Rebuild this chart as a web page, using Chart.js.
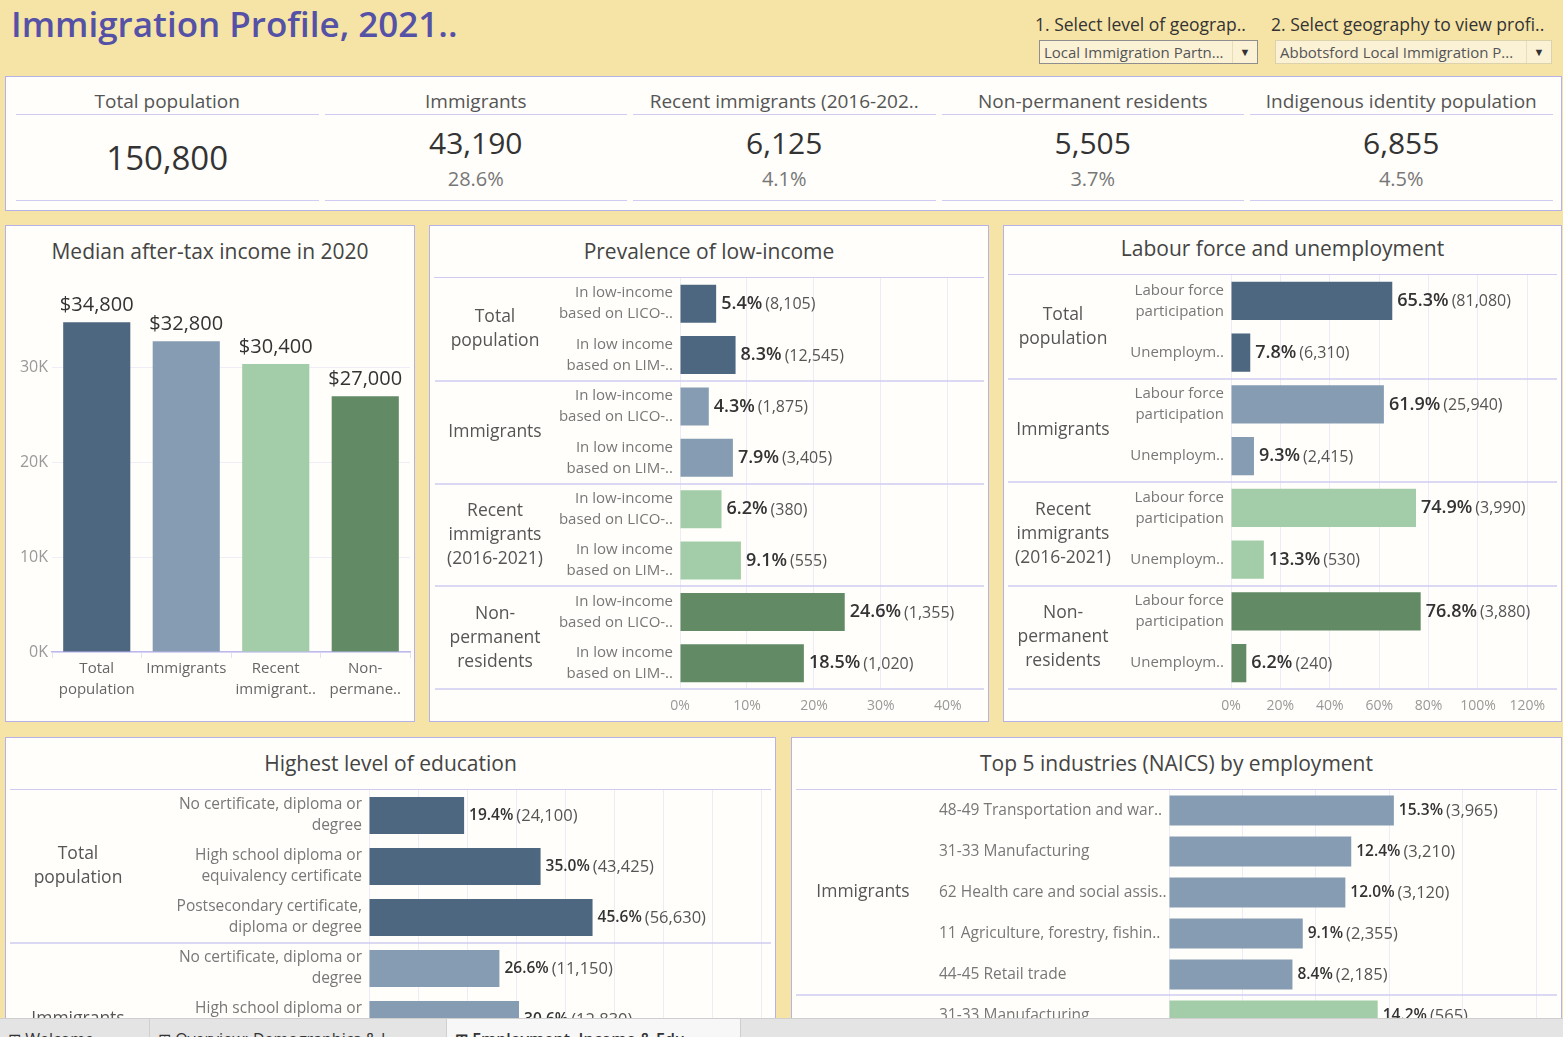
<!DOCTYPE html>
<html>
<head>
<meta charset="utf-8">
<title>Immigration Profile, 2021</title>
<script src="https://cdn.jsdelivr.net/npm/chart.js@4.4.0/dist/chart.umd.min.js"></script>
<style>
  body { margin: 0; width: 1563px; height: 1037px; overflow: hidden; position: relative;
         background: #F6E4A6; font-family: 'Open Sans', sans-serif; color: #333; }
  .abs { position: absolute; white-space: nowrap; }
  .panel { position: absolute; background: #FFFEFA; border: 1px solid #B6B2E8; box-sizing: border-box; }
  .ptitle { position: absolute; left: 0; right: 0; text-align: center; font-size: 21px; color: #444; line-height: 28px; }
  .hline { position: absolute; left: 4px; right: 4px; height: 0; border-top: 1.5px solid #CFCBF2; }
  .drop { position: absolute; height: 24px; box-sizing: border-box; background: #FBF2D6; font-size: 15px;
          color: #555; line-height: 22px; padding-left: 4px; }
  .drop .arr { position: absolute; right: 0; top: 0; width: 24px; height: 22px; text-align: center;
               font-size: 11px; color: #333; border-left: 1px solid #E8DDB8; }
  canvas { position: absolute; }
  .tabs { position: absolute; left: 0; top: 1018px; width: 1563px; height: 19px; background: #E4E4E4;
          border-top: 1px solid #CFCFCF; overflow: hidden; z-index: 5; }
  .tab { position: absolute; top: 0; height: 19px; border-right: 1px solid #CFCFCF; font-size: 16px;
         line-height: 22px; padding-top: 9px; padding-left: 8px; box-sizing: border-box; color: #333; }
</style>
</head>
<body>

<div class="abs" style="left:11px; top:0px; font-size:35px; font-weight:600; color:#5451A6; line-height:48px;">Immigration Profile, 2021..</div>

<div class="abs" style="left:1035px; top:11px; font-size:17.5px; line-height:26px;">1. Select level of geograp..</div>
<div class="abs" style="left:1271px; top:11px; font-size:17.5px; line-height:26px;">2. Select geography to view profi..</div>
<div class="drop" style="left:1039px; top:40px; width:219px; border:1px solid #8E8E8E;">Local Immigration Partn...<span class="arr">&#9660;</span></div>
<div class="drop" style="left:1275px; top:40px; width:277px; border:1px solid #DCD2AC;">Abbotsford Local Immigration P...<span class="arr">&#9660;</span></div>

<div class="panel" id="kpi" style="left:5px; top:76px; width:1557px; height:135px;"></div>

<div class="panel" style="left:5px; top:225px; width:410px; height:497px;">
  <div class="ptitle" style="top:11px;">Median after-tax income in 2020</div>
</div>
<div class="panel" style="left:429px; top:225px; width:560px; height:497px;">
  <div class="ptitle" style="top:11px;">Prevalence of low-income</div>
  <div class="hline" style="top:51px;"></div>
</div>
<div class="panel" style="left:1003px; top:225px; width:559px; height:497px;">
  <div class="ptitle" style="top:8px;">Labour force and unemployment</div>
  <div class="hline" style="top:48px;"></div>
</div>
<div class="panel" style="left:5px; top:737px; width:771px; height:330px;">
  <div class="ptitle" style="top:11px;">Highest level of education</div>
  <div class="hline" style="top:51px;"></div>
</div>
<div class="panel" style="left:791px; top:737px; width:771px; height:330px;">
  <div class="ptitle" style="top:11px;">Top 5 industries (NAICS) by employment</div>
  <div class="hline" style="top:51px;"></div>
</div>

<canvas id="incomeChart" width="407" height="444" style="left:6px; top:276px;"></canvas>
<canvas id="lowIncomeChart" width="556" height="442" style="left:431px; top:278px;"></canvas>
<canvas id="labourChart" width="556" height="445" style="left:1004px; top:275px;"></canvas>
<canvas id="eduChart" width="768" height="340" style="left:6px; top:790px;"></canvas>
<canvas id="industryChart" width="768" height="290" style="left:792px; top:790px;"></canvas>

<div class="tabs">
  <div class="tab" style="left:0; width:150px;">&#8862; Welcome</div>
  <div class="tab" style="left:150px; width:297px;">&#8862; Overview: Demographics &amp; I..</div>
  <div class="tab" style="left:447px; width:294px; background:#F7F7F7; font-weight:600;">&#8862; Employment, Income &amp; Edu..</div>
</div>

<script>
const BLUE_DARK = '#4E6781';
const BLUE_LIGHT = '#869CB2';
const GREEN_LIGHT = '#A2CDA8';
const GREEN_DARK = '#628A64';

// headline numbers
const kpiLabels = ['Total population', 'Immigrants', 'Recent immigrants (2016-202..', 'Non-permanent residents', 'Indigenous identity population'];
const kpiValues = [150800, 43190, 6125, 5505, 6855];
const kpiShares = [null, 28.6, 4.1, 3.7, 4.5];

// median after-tax income in 2020
const incomeLabels = [['Total', 'population'], ['Immigrants'], ['Recent', 'immigrant..'], ['Non-', 'permane..']];
const incomeValues = [34800, 32800, 30400, 27000];
const incomeTicks = [0, 10000, 20000, 30000];

// population groups used by the low-income and labour charts
const popGroups = [['Total', 'population'], ['Immigrants'], ['Recent', 'immigrants', '(2016-2021)'], ['Non-', 'permanent', 'residents']];
const popGroupSizes = [2, 2, 2, 2];

const lowIncomeLabels = [
  ['In low-income', 'based on LICO-..'], ['In low income', 'based on LIM-..'],
  ['In low-income', 'based on LICO-..'], ['In low income', 'based on LIM-..'],
  ['In low-income', 'based on LICO-..'], ['In low income', 'based on LIM-..'],
  ['In low-income', 'based on LICO-..'], ['In low income', 'based on LIM-..']
];
const lowIncomePct = [5.4, 8.3, 4.3, 7.9, 6.2, 9.1, 24.6, 18.5];
const lowIncomeCount = [8105, 12545, 1875, 3405, 380, 555, 1355, 1020];

const labourLabels = [
  ['Labour force', 'participation'], 'Unemploym..',
  ['Labour force', 'participation'], 'Unemploym..',
  ['Labour force', 'participation'], 'Unemploym..',
  ['Labour force', 'participation'], 'Unemploym..'
];
const labourPct = [65.3, 7.8, 61.9, 9.3, 74.9, 13.3, 76.8, 6.2];
const labourCount = [81080, 6310, 25940, 2415, 3990, 530, 3880, 240];

// highest level of education
const eduGroups = [['Total', 'population'], ['Immigrants']];
const eduGroupSizes = [3, 3];
const eduLabels = [
  ['No certificate, diploma or', 'degree'], ['High school diploma or', 'equivalency certificate'], ['Postsecondary certificate,', 'diploma or degree'],
  ['No certificate, diploma or', 'degree'], ['High school diploma or', 'equivalency certificate'], ['Postsecondary certificate,', 'diploma or degree']
];
const eduPct = [19.4, 35.0, 45.6, 26.6, 30.6, 42.8];
const eduCount = [24100, 43425, 56630, 11150, 12830, 17935];

// top industries
const industryGroups = [['Immigrants'], []];
const industryGroupSizes = [5, 1];
const industryLabels = ['48-49 Transportation and war..', '31-33 Manufacturing', '62 Health care and social assis..',
  '11 Agriculture, forestry, fishin..', '44-45 Retail trade', '31-33 Manufacturing'];
const industryPct = [15.3, 12.4, 12.0, 9.1, 8.4, 14.2];
const industryCount = [3965, 3210, 3120, 2355, 2185, 565];

Chart.defaults.font.family = "'Open Sans', sans-serif";
Chart.defaults.color = '#777';

// KPI strip
const kpi = document.getElementById('kpi');
const colW = 308.5;
kpiLabels.forEach((label, i) => {
  const left = 7 + i * colW;
  const col = document.createElement('div');
  col.style.cssText = `position:absolute; left:${left}px; top:0; width:${colW}px; height:133px; text-align:center;`;
  let html = `<div class="abs" style="left:0; right:0; top:11px; font-size:19px; color:#555; line-height:26px;">${label}</div>`;
  html += `<div class="abs" style="left:3px; right:3px; top:37px; border-top:1.5px solid #CFCBF2;"></div>`;
  html += `<div class="abs" style="left:3px; right:3px; top:123px; border-top:1.5px solid #CFCBF2;"></div>`;
  const v = kpiValues[i].toLocaleString('en-US');
  if (kpiShares[i] === null) {
    html += `<div class="abs" style="left:0; right:0; top:59px; font-size:33px; color:#333; line-height:44px;">${v}</div>`;
  } else {
    html += `<div class="abs" style="left:0; right:0; top:45px; font-size:30px; color:#333; line-height:42px;">${v}</div>`;
    html += `<div class="abs" style="left:0; right:0; top:88px; font-size:20px; color:#777; line-height:28px;">${kpiShares[i].toFixed(1)}%</div>`;
  }
  col.innerHTML = html;
  kpi.appendChild(col);
});

// value labels to the right of horizontal bars: "5.4% (8,105)"
function valuePlugin(counts, pctFont, countFont) {
  return {
    id: 'values',
    afterDatasetsDraw(chart) {
      const ctx = chart.ctx;
      const ds = chart.data.datasets[0];
      ctx.save();
      ctx.textBaseline = 'middle';
      ctx.textAlign = 'left';
      chart.getDatasetMeta(0).data.forEach((bar, i) => {
        let x = bar.x + 5;
        const p = ds.data[i].toFixed(1) + '%';
        ctx.font = pctFont;
        ctx.fillStyle = '#333';
        ctx.fillText(p, x, bar.y);
        x += ctx.measureText(p).width + 3;
        ctx.font = countFont;
        ctx.fillStyle = '#555';
        ctx.fillText('(' + counts[i].toLocaleString('en-US') + ')', x, bar.y + 1);
      });
      ctx.restore();
    }
  };
}

// outer group labels and the lines between groups
function groupPlugin(names, sizes, x, font, lineH) {
  return {
    id: 'groups',
    afterDraw(chart) {
      const { ctx, chartArea, scales } = chart;
      const band = (chartArea.bottom - chartArea.top) / chart.data.labels.length;
      ctx.save();
      let start = 0;
      sizes.forEach((size, g) => {
        const top = scales.y.getPixelForValue(start) - band / 2;
        const bottom = scales.y.getPixelForValue(start + size - 1) + band / 2;
        ctx.strokeStyle = '#CFCBF2';
        ctx.lineWidth = 1.5;
        ctx.beginPath();
        ctx.moveTo(4, Math.round(bottom));
        ctx.lineTo(chart.width - 3, Math.round(bottom));
        ctx.stroke();
        const lines = names[g];
        ctx.font = font;
        ctx.fillStyle = '#555';
        ctx.textAlign = 'center';
        ctx.textBaseline = 'middle';
        const mid = (top + bottom) / 2;
        lines.forEach((t, k) => ctx.fillText(t, x, mid + (k - (lines.length - 1) / 2) * lineH));
        start += size;
      });
      ctx.restore();
    }
  };
}

function hbar(id, labels, pcts, counts, names, sizes, colors, s) {
  const barColors = [];
  sizes.forEach((n, g) => { for (let i = 0; i < n; i++) barColors.push(colors[g]); });
  return new Chart(document.getElementById(id), {
    type: 'bar',
    data: {
      labels: labels,
      datasets: [{ data: pcts, backgroundColor: barColors, barPercentage: s.barPct, categoryPercentage: 1 }]
    },
    options: {
      indexAxis: 'y',
      responsive: false,
      animation: false,
      layout: { padding: { left: s.padLeft || 0, right: s.padRight, top: 0, bottom: 0 } },
      plugins: { legend: { display: false }, tooltip: { enabled: false } },
      scales: {
        x: {
          min: 0, max: s.max,
          ticks: { callback: v => v + '%', color: '#999', font: { size: 14 }, padding: 9, maxRotation: 0, autoSkip: false },
          grid: { color: '#ECEBF7', drawTicks: false },
          border: { display: false },
          afterBuildTicks: sc => {
            const t = [];
            for (let v = 0; v <= s.max; v += s.step) t.push({ value: v });
            sc.ticks = t;
          },
          afterFit: sc => { sc.height = s.xHeight; sc.paddingLeft = 0; sc.paddingRight = 0; }
        },
        y: {
          ticks: { color: '#777', font: { size: s.labelSize, lineHeight: s.labelLH }, padding: 7, crossAlign: s.align, autoSkip: false },
          grid: { display: false, drawTicks: false },
          border: { display: false },
          afterFit: sc => { sc.width = s.yWidth; sc.paddingTop = 0; sc.paddingBottom = 0; }
        }
      }
    },
    plugins: [
      groupPlugin(names, sizes, s.groupX, "17.5px 'Open Sans'", 24),
      valuePlugin(counts, s.pctFont, s.countFont)
    ]
  });
}

// median income column chart
new Chart(document.getElementById('incomeChart'), {
  type: 'bar',
  data: {
    labels: incomeLabels,
    datasets: [{
      data: incomeValues,
      backgroundColor: [BLUE_DARK, BLUE_LIGHT, GREEN_LIGHT, GREEN_DARK],
      barPercentage: 0.75,
      categoryPercentage: 1
    }]
  },
  options: {
    responsive: false,
    animation: false,
    layout: { padding: { top: 16, right: 3 } },
    plugins: { legend: { display: false }, tooltip: { enabled: false } },
    scales: {
      x: {
        ticks: { color: '#666', font: { size: 15, lineHeight: 1.4 }, padding: 0, maxRotation: 0, autoSkip: false },
        grid: { drawOnChartArea: false, drawTicks: true, tickLength: 6, color: '#E2E0F2', offset: true },
        border: { display: true, color: '#BDB9EC', width: 1.5 },
        afterFit: sc => { sc.height = 68; }
      },
      y: {
        min: 0, max: 38000,
        afterBuildTicks: sc => { sc.ticks = incomeTicks.map(v => ({ value: v })); },
        ticks: { callback: v => (v / 1000) + 'K', color: '#999', font: { size: 16 }, padding: 4 },
        grid: { color: '#EFEEF8', drawTicks: false },
        border: { display: false },
        afterFit: sc => { sc.width = 46; }
      }
    }
  },
  plugins: [{
    id: 'incomeValues',
    afterDatasetsDraw(chart) {
      const ctx = chart.ctx;
      ctx.save();
      ctx.font = "20px 'Open Sans'";
      ctx.fillStyle = '#333';
      ctx.textAlign = 'center';
      ctx.textBaseline = 'middle';
      chart.getDatasetMeta(0).data.forEach((bar, i) => {
        ctx.fillText('$' + incomeValues[i].toLocaleString('en-US'), bar.x, bar.y - 17);
      });
      ctx.restore();
    }
  }]
});

hbar('lowIncomeChart', lowIncomeLabels, lowIncomePct, lowIncomeCount, popGroups, popGroupSizes,
  [BLUE_DARK, BLUE_LIGHT, GREEN_LIGHT, GREEN_DARK],
  { yWidth: 249, padRight: 3, xHeight: 31, max: 45.4, step: 10, barPct: 0.74, labelSize: 15, labelLH: 1.4, align: 'near',
    groupX: 64, pctFont: "600 18px 'Open Sans'", countFont: "16px 'Open Sans'" });

hbar('labourChart', labourLabels, labourPct, labourCount, popGroups, popGroupSizes,
  [BLUE_DARK, BLUE_LIGHT, GREEN_LIGHT, GREEN_DARK],
  { yWidth: 227, padRight: 2, xHeight: 31, max: 132.4, step: 20, barPct: 0.74, labelSize: 15, labelLH: 1.4, align: 'near',
    groupX: 59, pctFont: "600 18px 'Open Sans'", countFont: "16px 'Open Sans'" });

hbar('eduChart', eduLabels, eduPct, eduCount, eduGroups, eduGroupSizes,
  [BLUE_DARK, BLUE_LIGHT],
  { yWidth: 363, padRight: 3, xHeight: 34, max: 82, step: 10, barPct: 0.725, labelSize: 15.5, labelLH: 1.35, align: 'near',
    groupX: 72, pctFont: "600 15.5px 'Open Sans'", countFont: "16.5px 'Open Sans'" });

hbar('industryChart', industryLabels, industryPct, industryCount, industryGroups, industryGroupSizes,
  [BLUE_LIGHT, GREEN_LIGHT],
  { yWidth: 230, padLeft: 147, padRight: 3, xHeight: 44, max: 26.4, step: 5, barPct: 0.73, labelSize: 15.5, labelLH: 1.4, align: 'far',
    groupX: 71, pctFont: "600 15.5px 'Open Sans'", countFont: "16.5px 'Open Sans'" });
</script>
</body>
</html>
